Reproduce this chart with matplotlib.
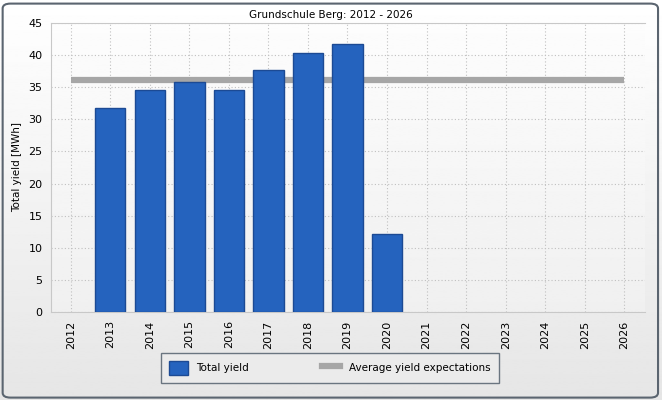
import numpy as np
import matplotlib
matplotlib.use("Agg")
import matplotlib.pyplot as plt
from matplotlib.patches import FancyBboxPatch, Rectangle
from matplotlib.lines import Line2D

years = [str(y) for y in range(2012, 2027)]
total_yield = [0, 31.7, 34.5, 35.8, 34.5, 37.7, 40.4, 41.7, 12.1, 0, 0, 0, 0, 0, 0]
avg_expectation = 36.2
title = "Grundschule Berg: 2012 - 2026"

plt.rcParams['font.family'] = ['DejaVu Sans']
fig = plt.figure(figsize=(6.62, 4.0), dpi=100)

# background gradient for the whole panel
bg = fig.add_axes([0, 0, 1, 1], zorder=-10)
grad = np.linspace(1.0, 0.9, 256).reshape(-1, 1)
bg.imshow(grad, aspect='auto', cmap='gray', vmin=0, vmax=1, extent=[0, 1, 0, 1])
bg.set_xlim(0, 1)
bg.set_ylim(0, 1)
bg.axis('off')
bg.add_patch(FancyBboxPatch((0.004, 0.006), 0.99, 0.985, boxstyle="round,pad=0,rounding_size=0.012",
                            fc='none', ec='#5b6570', lw=1.5, transform=bg.transAxes))

ax = fig.add_axes([0.077, 0.22, 0.897, 0.7225])
x = np.arange(len(years))
# plot area gradient
ax.imshow(np.linspace(0.99, 0.94, 256).reshape(-1, 1), aspect='auto', cmap='gray', vmin=0, vmax=1,
          extent=[-0.5, 14.52, 0, 45], zorder=0)
vals = np.array(total_yield)
mask = vals > 0
ax.bar(x[mask], vals[mask], width=0.77, color='#2563be', edgecolor='#1c4a94', lw=1, zorder=3)
ax.plot([x[0], x[-1]], [avg_expectation] * 2, color='#a6a6a6', lw=4.5, zorder=2, solid_capstyle='butt')

ax.set_xlim(-0.5, 14.52)
ax.set_ylim(0, 45)
ax.set_yticks(range(0, 46, 5))
ax.set_xticks(x)
ax.set_xticklabels(years, rotation=90, fontsize=8)
ax.tick_params(axis='y', labelsize=8, length=0, pad=6)
ax.tick_params(axis='x', length=0, pad=6)
ax.grid(True, ls=(0, (1, 2)), color='#c0c0c0', lw=0.8, zorder=1)
for s in ['top', 'left', 'bottom']:
    ax.spines[s].set_color('#c8c8c8')
ax.spines['right'].set_visible(False)
ax.set_ylabel("Total yield [MWh]", fontsize=7.5, labelpad=5)
fig.text(0.5, 0.962, title, ha='center', va='center', fontsize=7.5)

handles = [Rectangle((0, 0), 1, 1, fc='#2563be', ec='#1c4a94'),
           Line2D([], [], color='#a6a6a6', lw=4.5)]
leg = fig.legend(handles, ["Total yield", "Average yield expectations"], loc='center',
                 bbox_to_anchor=(0.498, 0.08), ncol=2, fontsize=7.5, frameon=True,
                 fancybox=False, edgecolor='#6a7580', facecolor='#ebebeb', framealpha=1,
                 columnspacing=7, handlelength=1.8, handleheight=1.6, borderpad=0.8)
leg.get_frame().set_linewidth(1)

fig.savefig("out.png", dpi=100)
